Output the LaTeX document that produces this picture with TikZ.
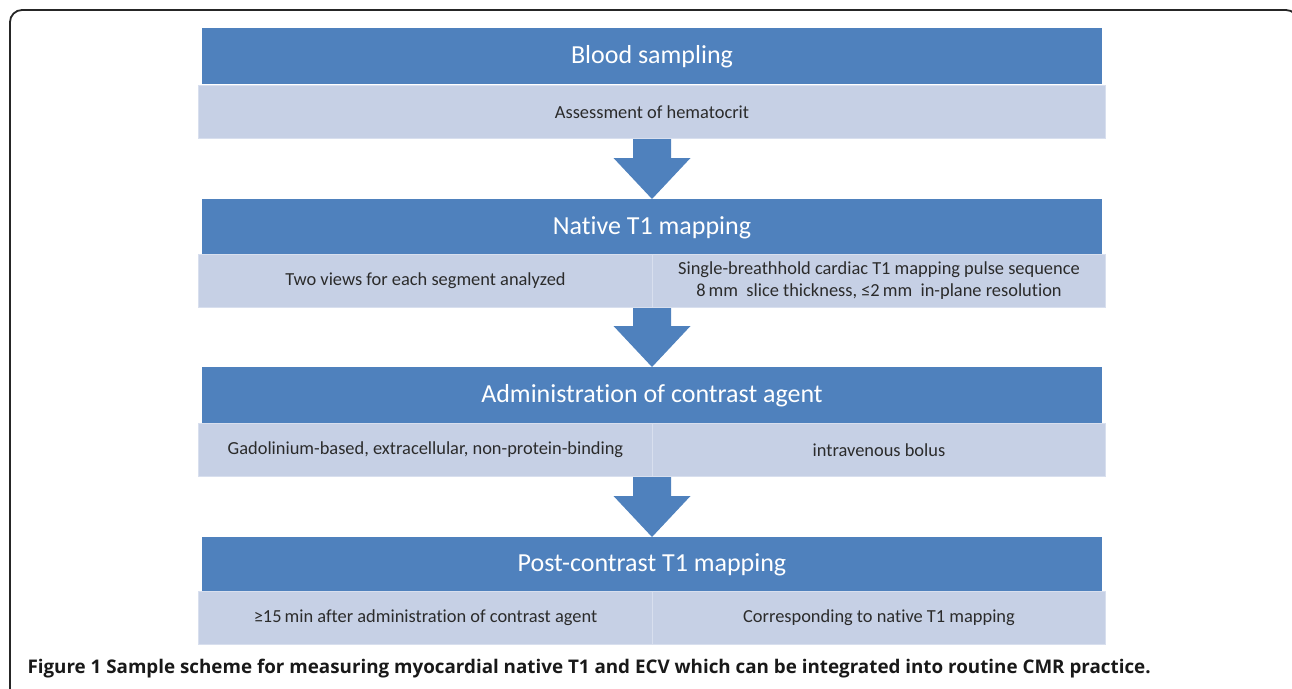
\documentclass[tikz,border=0pt]{standalone}
\usepackage{fontspec}
\setmainfont[Ligatures=NoCommon]{Carlito}
\newfontfamily\capfont{Open Sans}
\usetikzlibrary{calc}
\definecolor{hblue}{HTML}{4F81BD}
\definecolor{lblue}{HTML}{C6D0E5}
\definecolor{lline}{HTML}{D8DFEE}
\definecolor{txt}{HTML}{2B2B2B}
\begin{document}
\begin{tikzpicture}[x=1pt,y=-1pt,
  header/.style={fill=hblue, minimum width=900pt, minimum height=56pt, inner sep=0pt,
    anchor=north, text=white, text height=20pt, text depth=5pt, font=\fontsize{26}{30}\selectfont},
  cell/.style={fill=lblue, draw=lline, line width=1pt, minimum height=53pt, inner sep=0pt,
    anchor=north west, text=txt, align=center, font=\fontsize{18.4}{22}\selectfont},
  wide/.style={cell, minimum width=907pt},
  half/.style={cell, minimum width=454pt},
  halfr/.style={cell, minimum width=453pt},
  frame/.style={line width=1.8pt, draw=black!85, rounded corners=12pt},
  caption/.style={anchor=base west, text=black!90, font=\capfont\bfseries\fontsize{18.8}{22}\selectfont}]
\useasboundingbox (0,0) rectangle (1292,688);
\draw[frame] (10,720) -- (10,10) -- (1298,10) -- (1298,720);

% stage 1
\node[header] (h1) at (652,28) {Blood sampling};
\node[wide] (c1) at (198,85) {Assessment of hematocrit};
% stage 2
\node[header] (h2) at (652,199) {Native T1 mapping};
\node[half] (c2l) at (198,254) {Two views for each segment analyzed};
\node[halfr] (c2r) at (652,254) {Single-breathhold cardiac T1 mapping pulse sequence\\8\,mm\ \ slice thickness, ≤2\,mm\ \ in-plane resolution};
% stage 3
\node[header] (h3) at (652,367) {Administration of contrast agent};
\node[half] (c3l) at (198,423) {Gadolinium-based, extracellular, non-protein-binding};
\node[halfr] (c3r) at (652,423) {intravenous bolus};
% stage 4
\node[header, minimum height=54pt] (h4) at (652,537) {Post-contrast T1 mapping};
\node[half] (c4l) at (198,591) {≥15\,min after administration of contrast agent};
\node[halfr] (c4r) at (652,591) {Corresponding to native T1 mapping};

% block arrows
\foreach \a/\b in {c1/h2, c2l/h3, c3l/h4}{
  \fill[hblue] let \p1=(\a.south), \p2=(\b.north) in
    (\x2-19pt,\y1) -- (\x2-19pt,\y2+41pt) -- (\x2-38.5pt,\y2+41pt) -- (\p2)
    -- (\x2+38.5pt,\y2+41pt) -- (\x2+19pt,\y2+41pt) -- (\x2+19pt,\y1) -- cycle;
}

\node[caption] (cap) at (24,673) {Figure 1 Sample scheme for measuring myocardial native T1 and ECV which can be integrated into routine CMR practice.};
\end{tikzpicture}
\end{document}
